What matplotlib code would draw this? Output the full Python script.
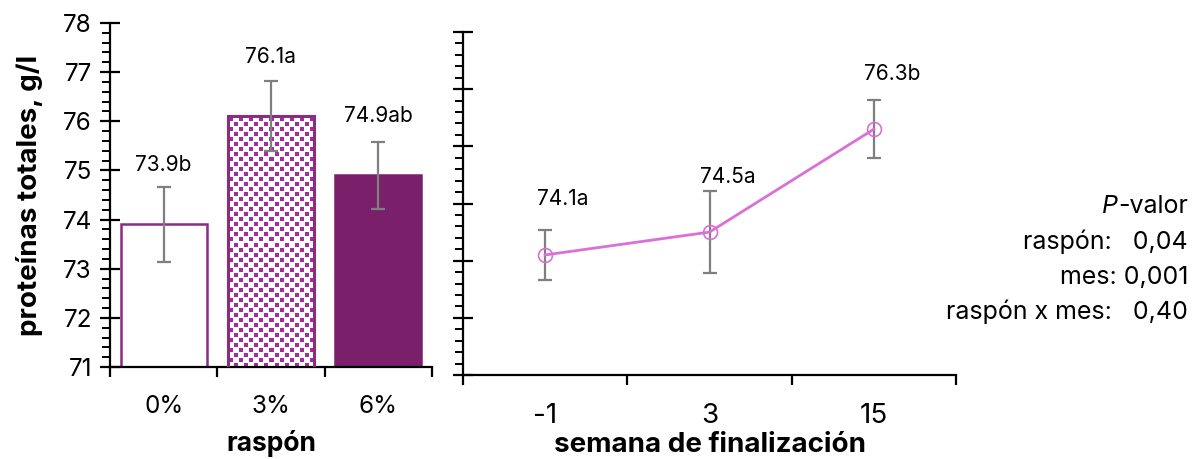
import numpy as np
import matplotlib
matplotlib.use("Agg")
import matplotlib.pyplot as plt
from matplotlib.ticker import MultipleLocator, FixedLocator, NullFormatter, FixedFormatter

plt.rcParams['font.family'] = ['Inter', 'DejaVu Sans']

# raspón (inclusion level) means
bar_cats = ['0%', '3%', '6%']
bar_means = [73.9, 76.1, 74.9]
bar_err = [0.77, 0.71, 0.68]
bar_letters = ['b', 'a', 'ab']

# weeks to finishing
week_cats = ['-1', '3', '15']
week_means = [74.1, 74.5, 76.3]
week_err = [0.44, 0.71, 0.51]
week_letters = ['a', 'a', 'b']

pval_names = ['raspón:   ', 'mes: ', 'raspón x mes:   ']
pval_values = ['0,04', '0,001', '0,40']

purple_dark = '#7a1f6a'
purple_edge = '#8c2a84'
purple_dot = '#a32d9c'
orchid = '#da6fd6'
grey = '#7f7f7f'

W, H = 1195, 459
fig = plt.figure(figsize=(W / 100, H / 100), dpi=100)


def frac(x0, y0, x1, y1):
    return [x0 / W, 1 - y1 / H, (x1 - x0) / W, (y1 - y0) / H]


def style_axis(ax, tick_fs, n):
    for s in ['top', 'right']:
        ax.spines[s].set_visible(False)
    for s in ['left', 'bottom']:
        ax.spines[s].set_linewidth(1.6)
    ax.yaxis.set_major_locator(MultipleLocator(1))
    ax.yaxis.set_minor_locator(MultipleLocator(0.2))
    ax.tick_params(axis='y', which='major', direction='inout', length=14, width=1.6)
    ax.tick_params(axis='y', which='minor', direction='out', length=6, width=1.4)
    ax.set_xlim(-0.5, n - 0.5)
    ax.xaxis.set_major_locator(FixedLocator(np.arange(n + 1) - 0.5))
    ax.xaxis.set_major_formatter(NullFormatter())
    ax.xaxis.set_minor_locator(FixedLocator(np.arange(n)))
    ax.tick_params(axis='x', which='major', direction='out', length=7, width=1.6)
    ax.tick_params(axis='x', which='minor', length=0, labelsize=tick_fs)


# left panel: bars
ax1 = fig.add_axes(frac(110, 23, 432, 367))
ax1.set_ylim(71, 78)
style_axis(ax1, 17.5, len(bar_cats))
ax1.xaxis.set_minor_formatter(FixedFormatter(bar_cats))
ax1.tick_params(axis='x', which='minor', pad=20)
ax1.tick_params(axis='y', labelsize=17.5, pad=6)

x = np.arange(len(bar_cats))
bars = ax1.bar(x, bar_means, width=0.8, color=['white', 'white', purple_dark],
               edgecolor=[purple_edge, purple_edge, purple_dark], linewidth=1.8, zorder=2)

# confetti fill for the 3% bar
fig.canvas.draw()
b = bars[1]
bx0, bx1 = b.get_x(), b.get_x() + b.get_width()
by0, by1 = ax1.get_ylim()[0], b.get_height()
p0 = ax1.transData.transform((bx0, by0))
p1 = ax1.transData.transform((bx1, by1))
nw, nh = int(abs(p1[0] - p0[0])), int(abs(p1[1] - p0[1]))
tile = np.zeros((10, 10))
tile[1:5, 1:5] = 1
tile[6:10, 6:10] = 1
pat = np.tile(tile, (nh // 10 + 2, nw // 10 + 2))[:nh, :nw]
rgba = np.ones((nh, nw, 4))
col = matplotlib.colors.to_rgb(purple_dot)
for i in range(3):
    rgba[..., i] = np.where(pat > 0, col[i], 1.0)
im = ax1.imshow(rgba, extent=[bx0, bx1, by0, by1], origin='upper',
                interpolation='nearest', aspect='auto', zorder=2.5)
im.set_clip_path(b)
ax1.bar([x[1]], [bar_means[1]], width=0.8, color='none', edgecolor=purple_edge,
        linewidth=2.2, zorder=3)

ax1.errorbar(x, bar_means, yerr=bar_err, fmt='none', ecolor=grey, elinewidth=1.6,
             capsize=5, capthick=1.6, zorder=4)
for xi, m, lt in zip(x, bar_means, bar_letters):
    ax1.annotate(f'{m:.1f}{lt}', (xi, m), xytext=(0, 43), textcoords='offset points',
                 ha='center', va='center', fontsize=15)

ax1.set_ylabel('proteínas totales, g/l', fontsize=20, fontweight='bold', labelpad=14)
ax1.set_xlabel('raspón', fontsize=19, fontweight='bold', labelpad=9)

# right panel: line over weeks
ax2 = fig.add_axes(frac(463, 32, 956, 375))
ax2.set_ylim(72, 78)
style_axis(ax2, 20, len(week_cats))
ax2.xaxis.set_minor_formatter(FixedFormatter(week_cats))
ax2.yaxis.set_major_formatter(NullFormatter())
ax2.tick_params(axis='x', which='minor', pad=20)

xw = np.arange(len(week_cats))
ax2.errorbar(xw, week_means, yerr=week_err, fmt='none', ecolor=grey, elinewidth=1.6,
             capsize=5, capthick=1.6, zorder=2)
ax2.plot(xw, week_means, color=orchid, linewidth=2, marker='o', markersize=10,
         markerfacecolor='none', markeredgecolor=orchid, markeredgewidth=1.2, zorder=3)
for xi, m, lt in zip(xw, week_means, week_letters):
    ax2.annotate(f'{m:.1f}{lt}', (xi, m), xytext=(13, 40), textcoords='offset points',
                 ha='center', va='center', fontsize=15)
ax2.set_xlabel('semana de finalización', fontsize=20, fontweight='bold', labelpad=2)

# P-values
fs = 18
t = fig.text(1188 / W, 1 - 207 / H, '-valor', ha='right', va='center', fontsize=fs)
ax2.annotate('P', xy=(0, 0), xycoords=t, ha='right', va='bottom', fontsize=fs,
             style='italic', annotation_clip=False)
for i, (nm, v) in enumerate(zip(pval_names, pval_values)):
    fig.text(1188 / W, 1 - (242 + 35 * i) / H, nm + v, ha='right', va='center', fontsize=fs)

fig.savefig('out.png', dpi=100)
